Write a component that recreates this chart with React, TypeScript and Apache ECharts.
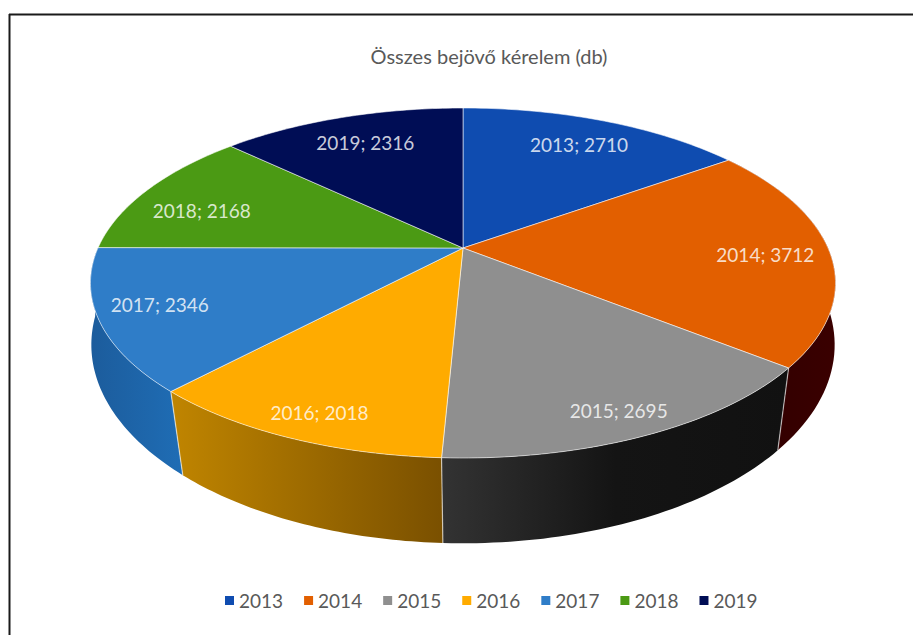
import React, { useEffect, useRef } from "react";
import * as echarts from "echarts";

const years = ["2013", "2014", "2015", "2016", "2017", "2018", "2019"];
const requests = [2710, 3712, 2695, 2018, 2346, 2168, 2316];
const topColors = ["#0f4cb0", "#e25f00", "#8f8f8f", "#ffab00", "#2f7dc8", "#4b9a14", "#000d55"];
const sideStops: string[][] = [
  ["#0a3578", "#0a3578"],
  ["#2e0000", "#3a0000"],
  ["#333333", "#141414", "#111111"],
  ["#c08500", "#7a5000"],
  ["#1c5c9c", "#1f6db5"],
  ["#32680d", "#32680d"],
  ["#000838", "#000838"],
];
const labelNudge: [number, number][] = [
  [0, 1],
  [-6, 3],
  [-3, 1],
  [7, 1],
  [6, -5],
  [1, 11],
  [2, 1],
];
const titleText = "Összes bejövő kérelem (db)";

const total = requests.reduce((a, b) => a + b, 0);

// perspective discs: the centre of the pie is not the centre of the ellipse
const CX = 463;
const TOP = { cy: 248, a: 365, b: 168, k: 0.2 };
const BOTTOM = { cy: 317, a: 368, b: 194.6, k: 0.14 };

function project(theta: number, r = 1, disc = TOP): [number, number] {
  const u = Math.sin(theta) * r;
  const v = Math.cos(theta) * r;
  const d = 1 + disc.k * v;
  return [CX + (disc.a * u) / d, disc.cy - (disc.b * v) / d];
}
function arc(from: number, to: number, disc: typeof TOP) {
  const pts: [number, number][] = [];
  const n = 48;
  for (let i = 0; i <= n; i++) pts.push(project(from + ((to - from) * i) / n, 1, disc));
  return pts;
}

function makeRenderItem(index: number) {
  return (_params: any, api: any) => {
    const value = api.value(0);
    const before = requests.slice(0, index).reduce((a, b) => a + b, 0);
    const start = (before / total) * Math.PI * 2;
    const end = start + (value / total) * Math.PI * 2;
    const mid = (start + end) / 2;
    const topArc = arc(start, end, TOP);
    const botArc = arc(start, end, BOTTOM);
    const depth = Math.cos(mid);
    const labelR = 0.84 - 0.05 * depth;
    const [lx, ly] = project(mid, labelR);
    const [sx, sy] = project(start);
    const [bx, by] = project(start, 1, BOTTOM);
    const stops = sideStops[index];
    const facesViewer = Math.cos(start) < 0 || Math.cos(end) < 0;
    const side = facesViewer
      ? [
          {
            type: "polygon",
            z2: 10 - Math.round(depth * 5),
            shape: { points: [...topArc, ...botArc.slice().reverse()] },
            style: {
              fill: new echarts.graphic.LinearGradient(
                0,
                0,
                1,
                0,
                stops.map((color, i) => ({ offset: i / (stops.length - 1), color }))
              ),
              stroke: "none",
            },
          },
          {
            type: "line",
            z2: 20,
            shape: { x1: sx, y1: sy, x2: bx, y2: by },
            style: { stroke: "rgba(255,255,255,0.6)", lineWidth: 1.2 },
          },
        ]
      : [];
    return {
      type: "group",
      children: [
        ...side,
        {
          type: "polygon",
          z2: 30,
          shape: { points: [[CX, TOP.cy], ...topArc] },
          style: {
            fill: topColors[index],
            stroke: "rgba(255,255,255,0.55)",
            lineWidth: 1,
            lineJoin: "round",
          },
        },
        {
          type: "text",
          z2: 40,
          style: {
            text: `${years[index]}; ${value}`,
            x: lx + labelNudge[index][0],
            y: ly + labelNudge[index][1],
            align: "center",
            verticalAlign: "middle",
            fill: "rgba(255,255,255,0.8)",
            font: "19px Lato",
          },
        },
      ],
    };
  };
}

export default function App() {
  const ref = useRef<HTMLDivElement>(null);
  useEffect(() => {
    const chart = echarts.init(ref.current!, undefined, { renderer: "svg" });
    chart.setOption({
      animation: false,
      backgroundColor: "#ffffff",
      title: {
        text: titleText,
        left: 484,
        top: 41,
        textAlign: "center",
        textStyle: { fontFamily: "Lato", fontSize: 20, fontWeight: "normal", color: "#595959" },
      },
      legend: {
        data: years,
        left: 220,
        top: 586,
        icon: "rect",
        itemWidth: 9,
        itemHeight: 9,
        itemGap: 21,
        textStyle: { fontFamily: "Lato", fontSize: 19, color: "#595959" },
        selectedMode: false,
      },
      graphic: [
        { type: "line", shape: { x1: 9, y1: 14.5, x2: 913, y2: 14.5 }, style: { stroke: "#1a1a1a", lineWidth: 2 } },
        { type: "line", shape: { x1: 9.5, y1: 14, x2: 9.5, y2: 635 }, style: { stroke: "#1a1a1a", lineWidth: 2 } },
      ],
      series: years.map((name, i) => ({
        type: "custom",
        name,
        coordinateSystem: "none",
        silent: true,
        itemStyle: { color: topColors[i] },
        data: [[requests[i]]],
        renderItem: makeRenderItem(i),
      })),
    });
    return () => chart.dispose();
  }, []);
  return <div ref={ref} style={{ position: "absolute", left: 0, top: 0, width: 913, height: 635 }} />;
}
